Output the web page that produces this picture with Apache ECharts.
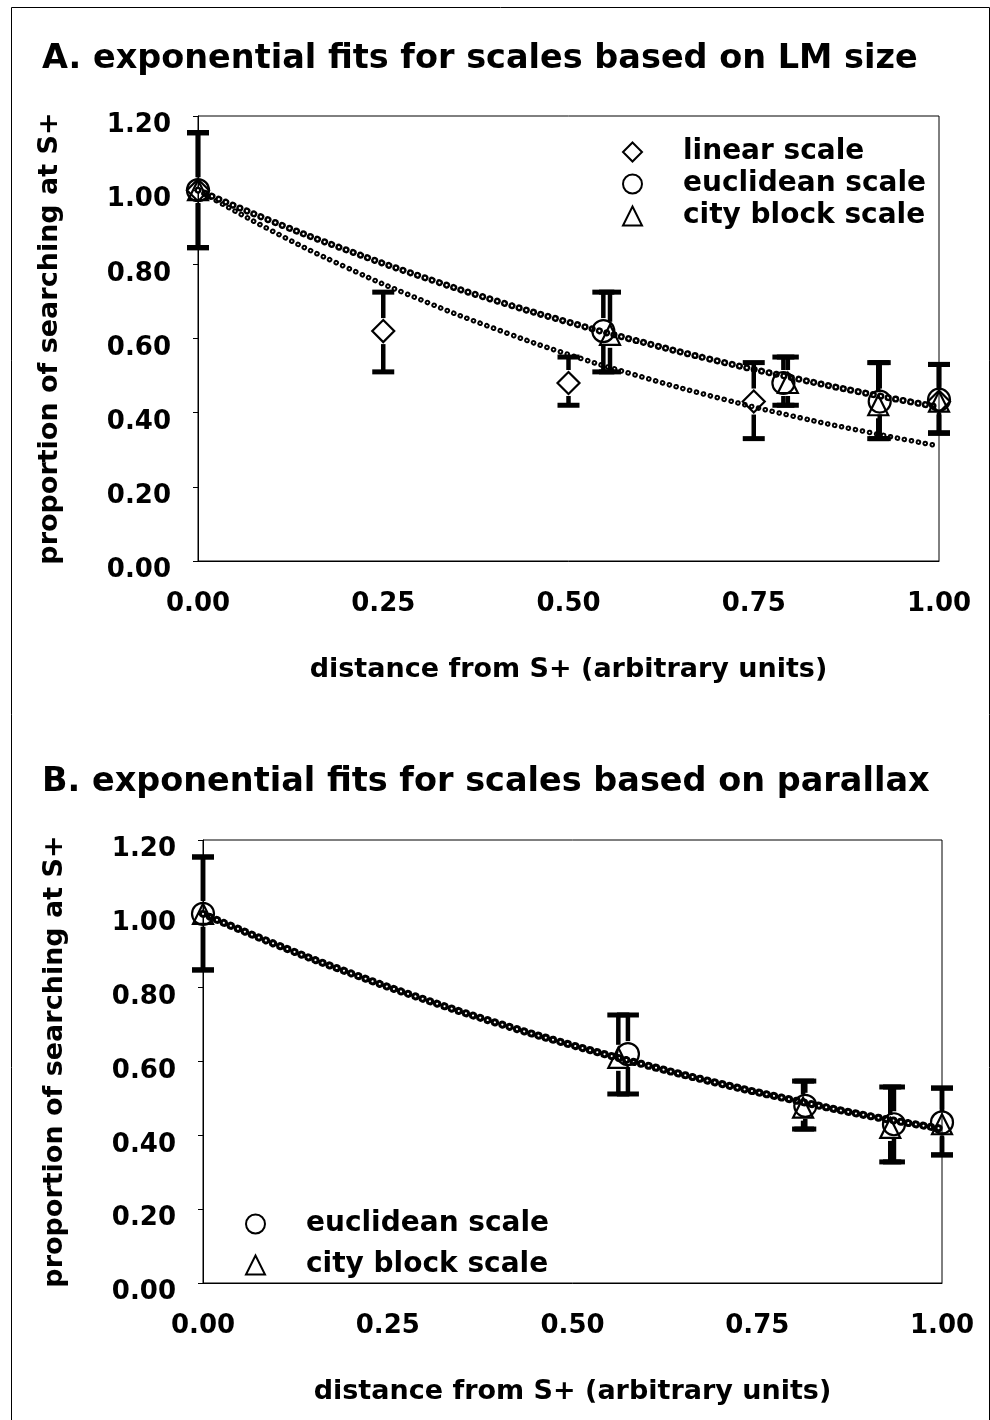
<!DOCTYPE html>
<html>
<head>
<meta charset="utf-8">
<script src="https://cdn.jsdelivr.net/npm/echarts@6/dist/echarts.min.js"></script>
<style>html,body{margin:0;padding:0;background:#fff}#c{width:990px;height:1420px}</style>
</head>
<body>
<div id="c"></div>
<script>
// ---------- data ----------
const yTicks = [0, 0.2, 0.4, 0.6, 0.8, 1.0, 1.2];
const xTicks = [0, 0.25, 0.5, 0.75, 1.0];

// Panel A: scales based on LM size
const xA_linear = [0, 0.25, 0.50, 0.75, 1.00];
const yA_linear = [1.00, 0.62, 0.48, 0.43, 0.43];
const xA_euclid = [0, 0.547, 0.790, 0.920, 1.00];
const yA_euclid = [1.00, 0.62, 0.48, 0.43, 0.435];
const xA_city   = [0, 0.556, 0.796, 0.918, 1.00];
const yA_city   = [1.00, 0.61, 0.48, 0.42, 0.43];
const loA = [0.845, 0.51, 0.42, 0.33, 0.345];
const hiA = [1.155, 0.725, 0.55, 0.535, 0.53];

// Panel B: scales based on parallax
const xB_euclid = [0, 0.575, 0.815, 0.935, 1.00];
const yB_euclid = [1.00, 0.62, 0.48, 0.43, 0.435];
const xB_city   = [0, 0.562, 0.812, 0.930, 1.00];
const yB_city   = [1.00, 0.61, 0.475, 0.42, 0.43];
const loB = [0.848, 0.512, 0.417, 0.328, 0.347];
const hiB = [1.154, 0.726, 0.547, 0.531, 0.528];

// exponential fit curves
const fitX      = [0, 0.1, 0.2, 0.3, 0.4, 0.5, 0.6, 0.7, 0.8, 0.9, 1.0];
const fitA_dist = [1.00, 0.916, 0.839, 0.768, 0.703, 0.644, 0.590, 0.540, 0.495, 0.453, 0.415];
const fitA_lin  = [1.00, 0.890, 0.792, 0.705, 0.627, 0.557, 0.496, 0.441, 0.392, 0.349, 0.310];
const fitB      = [1.00, 0.916, 0.839, 0.768, 0.703, 0.644, 0.590, 0.540, 0.495, 0.453, 0.418];

// ---------- helpers ----------
const FONT = 'DejaVu Sans, Verdana, sans-serif';
const zip = (a, b) => a.map((v, i) => [v, b[i]]);
const zipErr = (x, y, lo, hi) => x.map((v, i) => [v, y[i], lo[i], hi[i]]);

function errRender(params, api) {
  const x = api.value(0), y = api.value(1), lo = api.value(2), hi = api.value(3);
  const pc = api.coord([x, y]), pl = api.coord([x, lo]), ph = api.coord([x, hi]);
  const gap = 13, cw = 11, st = { stroke: '#000', lineWidth: 4.5 };
  const ch = [];
  if (ph[1] < pc[1] - gap) ch.push({ type: 'line', shape: { x1: pc[0], y1: ph[1], x2: pc[0], y2: pc[1] - gap }, style: st });
  if (pl[1] > pc[1] + gap) ch.push({ type: 'line', shape: { x1: pc[0], y1: pc[1] + gap, x2: pc[0], y2: pl[1] }, style: st });
  ch.push({ type: 'line', shape: { x1: pc[0] - cw, y1: ph[1], x2: pc[0] + cw, y2: ph[1] }, style: { stroke: '#000', lineWidth: 5 } });
  ch.push({ type: 'line', shape: { x1: pc[0] - cw, y1: pl[1], x2: pc[0] + cw, y2: pl[1] }, style: { stroke: '#000', lineWidth: 5 } });
  return { type: 'group', children: ch };
}

function errSeries(idx, data) {
  return { type: 'custom', xAxisIndex: idx, yAxisIndex: idx, renderItem: errRender, clip: false,
           encode: { x: 0, y: [1, 2, 3] }, data: data, z: 3, silent: true };
}
function markSeries(idx, name, symbol, size, data) {
  return { type: 'scatter', name: name, xAxisIndex: idx, yAxisIndex: idx, symbol: symbol, symbolSize: size,
           clip: false, data: data, z: 5,
           itemStyle: { color: 'rgba(255,255,255,0)', borderColor: '#000', borderWidth: 2.2, opacity: 1 } };
}
function chain(idx, data, outer, inner, gap) {
  return [
    { type: 'line', xAxisIndex: idx, yAxisIndex: idx, data: data, smooth: true, showSymbol: false, z: 2, silent: true,
      lineStyle: { color: '#000', width: outer, type: [0.1, gap], cap: 'round' } },
    { type: 'line', xAxisIndex: idx, yAxisIndex: idx, data: data, smooth: true, showSymbol: false, z: 2, silent: true,
      lineStyle: { color: '#fff', width: inner, type: [0.1, gap], cap: 'round' } }
  ];
}
function xAxis(gi) {
  return { type: 'value', gridIndex: gi, min: 0, max: 1, interval: 0.25,
    name: 'distance from S+ (arbitrary units)', nameLocation: 'middle', nameGap: 95,
    nameTextStyle: { fontFamily: FONT, fontWeight: 'bold', fontSize: 27, color: '#000' },
    axisLine: { lineStyle: { color: '#000', width: 1 } }, axisTick: { show: false },
    splitLine: { show: false },
    axisLabel: { margin: 30, fontFamily: FONT, fontWeight: 'bold', fontSize: 26, color: '#000',
                 formatter: v => v.toFixed(2) } };
}
function yAxis(gi) {
  return { type: 'value', gridIndex: gi, min: 0, max: 1.2, interval: 0.2,
    name: 'proportion of searching at S+', nameLocation: 'middle', nameGap: 135,
    nameTextStyle: { fontFamily: FONT, fontWeight: 'bold', fontSize: 27, color: '#000' },
    axisLine: { show: true, lineStyle: { color: '#000', width: 1 } },
    axisTick: { show: true, length: 5, lineStyle: { color: '#000' } },
    splitLine: { show: false },
    axisLabel: { margin: 27, verticalAlign: 'top', lineHeight: 19, fontFamily: FONT, fontWeight: 'bold', fontSize: 26, color: '#000',
                 formatter: v => v.toFixed(2) } };
}

const chart = echarts.init(document.getElementById('c'), null, { renderer: 'canvas' });
chart.setOption({
  backgroundColor: '#fff',
  animation: false,
  title: [
    { text: 'A. exponential fits for scales based on LM size', left: 37, top: 37,
      textStyle: { fontFamily: FONT, fontWeight: 'bold', fontSize: 33.5, color: '#000' } },
    { text: 'B. exponential fits for scales based on parallax', left: 37, top: 760,
      textStyle: { fontFamily: FONT, fontWeight: 'bold', fontSize: 33.5, color: '#000' } }
  ],
  graphic: [
    { type: 'rect', left: 9, top: 5, shape: { x: 0, y: 0, width: 978, height: 1430 },
      style: { fill: 'none', stroke: '#000', lineWidth: 1 }, silent: true }
  ],
  grid: [
    { left: 198, top: 116, width: 741, height: 445, show: true, borderColor: '#000', borderWidth: 1, backgroundColor: 'transparent' },
    { left: 203, top: 840, width: 739, height: 443, show: true, borderColor: '#000', borderWidth: 1, backgroundColor: 'transparent' }
  ],
  xAxis: [xAxis(0), xAxis(1)],
  yAxis: [yAxis(0), yAxis(1)],
  legend: [
    { data: ['linear scale', 'euclidean scale', 'city block scale'], orient: 'vertical', left: 617, top: 133,
      itemWidth: 19, itemHeight: 19, itemGap: 4, selectedMode: false,
      textStyle: { fontFamily: FONT, fontWeight: 'bold', fontSize: 28, color: '#000', lineHeight: 28, padding: [0, 0, 0, 36] } },
    { data: ['euclidean scale', 'city block scale'], orient: 'vertical', left: 240, top: 1205,
      itemWidth: 19, itemHeight: 19, itemGap: 13, selectedMode: false,
      textStyle: { fontFamily: FONT, fontWeight: 'bold', fontSize: 28, color: '#000', lineHeight: 28, padding: [0, 0, 0, 36] } }
  ],
  series: [
    ...chain(0, zip(fitX, fitA_lin), 5.5, 1.6, 7),
    ...chain(0, zip(fitX, fitA_dist), 7, 2.2, 7.5),
    errSeries(0, zipErr(xA_linear, yA_linear, loA, hiA)),
    errSeries(0, zipErr(xA_euclid, yA_euclid, loA, hiA)),
    errSeries(0, zipErr(xA_city, yA_city, loA, hiA)),
    markSeries(0, 'linear scale', 'diamond', 22, zip(xA_linear, yA_linear)),
    markSeries(0, 'euclidean scale', 'circle', 22, zip(xA_euclid, yA_euclid)),
    markSeries(0, 'city block scale', 'triangle', 20, zip(xA_city, yA_city)),

    ...chain(1, zip(fitX, fitB), 8, 2, 7.5),
    errSeries(1, zipErr(xB_euclid, yB_euclid, loB, hiB)),
    errSeries(1, zipErr(xB_city, yB_city, loB, hiB)),
    markSeries(1, 'euclidean scale', 'circle', 22, zip(xB_euclid, yB_euclid)),
    markSeries(1, 'city block scale', 'triangle', 20, zip(xB_city, yB_city))
  ]
});
</script>
</body>
</html>
